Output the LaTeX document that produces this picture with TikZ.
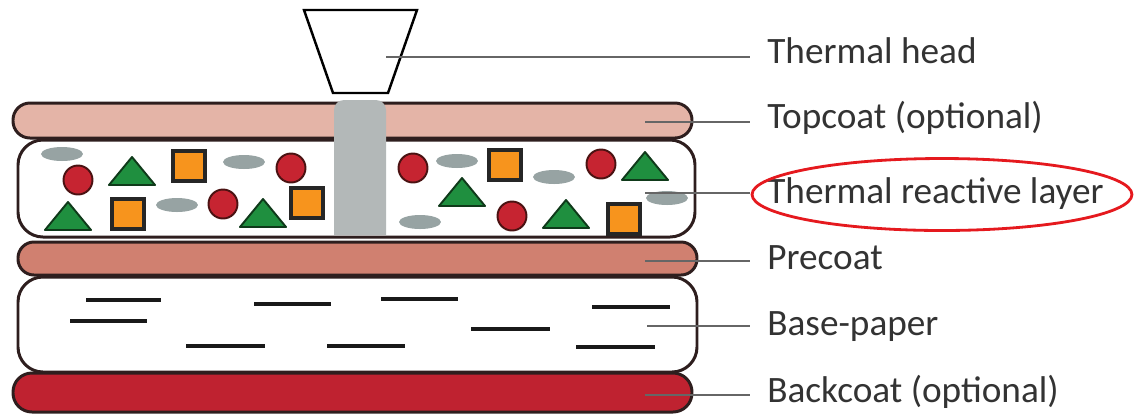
\documentclass[tikz,border=0pt]{standalone}
\usepackage{fontspec}
\setmainfont{Carlito}
\usetikzlibrary{positioning,calc}
\definecolor{topcoatc}{HTML}{E4B4A7}
\definecolor{precoatc}{HTML}{D08070}
\definecolor{backcoatc}{HTML}{BF2230}
\definecolor{layeredge}{HTML}{2E1E1E}
\definecolor{dotred}{HTML}{C62431}
\definecolor{dotedge}{HTML}{4A1212}
\definecolor{trigreen}{HTML}{1F8F3F}
\definecolor{triedge}{HTML}{0F3A1A}
\definecolor{boxorange}{HTML}{F7941D}
\definecolor{grainc}{HTML}{97A3A3}
\definecolor{columnc}{HTML}{B3B8B8}
\definecolor{leadergray}{HTML}{666666}
\definecolor{labeltext}{HTML}{333333}
\definecolor{ringred}{HTML}{E5191E}

\begin{document}
\begin{tikzpicture}[x=0.02cm, y=-0.02cm,
  layer/.style={draw=layeredge, line width=1.7pt},
  dot/.style={fill=dotred, draw=dotedge, line width=1.1pt},
  tri/.style={fill=trigreen, draw=triedge, line width=1.1pt, line join=round},
  box/.style={fill=boxorange, draw=black!85, line width=2.1pt},
  grain/.style={fill=grainc},
  fibre/.style={draw=black!90, line width=2.3pt},
  leader/.style={draw=leadergray, line width=0.8pt},
  lbl/.style={anchor=base west, inner xsep=0.34cm, inner ysep=0pt, text=labeltext, font=\fontsize{21.2}{25}\selectfont},
  ring/.style={draw=ringred, line width=1.6pt},
]
  \useasboundingbox (0,0) rectangle (1134,414);

  % thermal reactive layer and its particles
  \draw[layer, fill=white, rounded corners=0.5cm] (18,140) rectangle (695,237);
  \foreach \x/\y in {62/154, 244/162, 177/205, 457/161, 420/222, 554/177, 667/198}
    \fill[grain] (\x,\y) ellipse [x radius=0.42cm, y radius=0.14cm];
  \foreach \x/\y in {78/180, 291/168, 223/204, 413/168, 512/216, 601/164}
    \draw[dot] (\x,\y) circle [radius=0.29cm];
  \foreach \x/\y in {132/157, 68/202, 263/199, 462/178, 566/200, 645/152}
    \draw[tri] (\x,\y) -- ++(23,28) -- ++(-46,0) -- cycle;
  \foreach \x/\y in {189/166, 128/214, 307/203, 505/165, 624/219}
    \draw[box] (\x,\y) ++(-16,-15) rectangle ++(32,30);

  % topcoat
  \draw[layer, fill=topcoatc, rounded corners=0.34cm] (13,103) rectangle (692,138);

  % heated column under the head
  \fill[columnc] (334,235) {[rounded corners=0.2cm] -- (334,100) -- (386,100)} -- (386,235) -- cycle;

  % precoat, base paper, backcoat
  \draw[layer, fill=precoatc, rounded corners=0.32cm] (18,242) rectangle (697,275);
  \draw[layer, fill=white, rounded corners=0.5cm] (18,277) rectangle (697,372);
  \foreach \xa/\xb/\y in {86/161/300, 70/147/321, 254/331/304, 381/458/299, 592/670/307,
                          471/550/329, 186/265/346, 327/405/346, 576/655/347}
    \draw[fibre] (\xa,\y) -- (\xb,\y);
  \draw[layer, fill=backcoatc, rounded corners=0.38cm] (13,373) rectangle (692,412);

  % thermal head
  \draw[fill=white, draw=black, line width=1.4pt] (304,10) -- (417,10) -- (388,93) -- (333,93) -- cycle;

  % labels
  \node[lbl] (lab-head)    at (750,63)  {Thermal head};
  \node[lbl] (lab-top)     at (750,128) {Topcoat (optional)};
  \node[lbl] (lab-react)   at (750,203) {Thermal reactive layer};
  \node[lbl] (lab-pre)     at (750,269) {Precoat};
  \node[lbl] (lab-base)    at (750,335) {Base-paper};
  \node[lbl] (lab-back)    at (750,402) {Backcoat (optional)};

  \coordinate (in-head)  at (386,57);
  \coordinate (in-top)   at (645,122);
  \coordinate (in-react) at (645,193);
  \coordinate (in-pre)   at (645,261);
  \coordinate (in-base)  at (647,326);
  \coordinate (in-back)  at (645,395);

  \draw[leader] (in-head)  -- (in-head  -| lab-head.west);
  \draw[leader] (in-top)   -- (in-top   -| lab-top.west);
  \draw[leader] (in-react) -- (in-react -| lab-react.west);
  \draw[leader] (in-pre)   -- (in-pre   -| lab-pre.west);
  \draw[leader] (in-base)  -- (in-base  -| lab-base.west);
  \draw[leader] (in-back)  -- (in-back  -| lab-back.west);

  % highlight
  \draw[ring] (942,194.5) ellipse [x radius=3.8cm, y radius=0.72cm];
\end{tikzpicture}
\end{document}
